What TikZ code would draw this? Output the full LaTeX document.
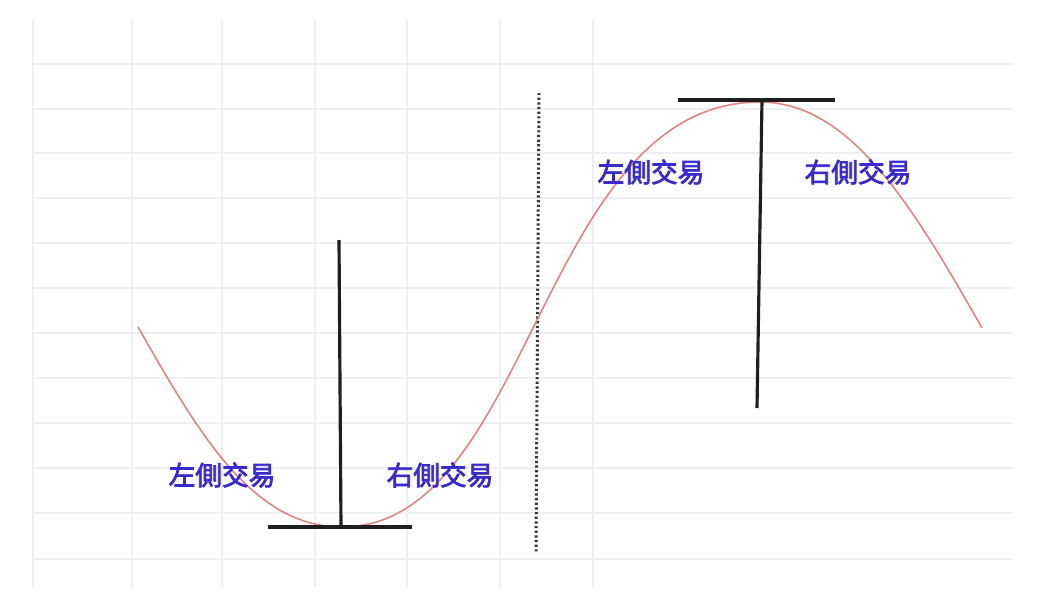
\documentclass[tikz,border=0pt]{standalone}
\usepackage{fontspec}
\newfontfamily\cjk{Noto Sans CJK TC}[FakeBold=2.8]
\definecolor{gridc}{RGB}{237,239,245}
\definecolor{curvec}{RGB}{226,130,130}
\definecolor{labelc}{RGB}{58,42,205}
\definecolor{barc}{RGB}{30,30,30}
\tikzset{
  gridline/.style={draw=gridc, line width=1.1pt},
  curveline/.style={draw=curvec, line width=0.9pt},
  tbar/.style={draw=barc, line width=1.8pt},
  dotline/.style={draw=barc!90, line width=1.7pt, dash pattern=on 1.25pt off 1.4pt},
  lbl/.style={text=labelc, font=\cjk\fontsize{15.2}{18}\selectfont, inner sep=0pt}
}
\begin{document}
\begin{tikzpicture}[x=0.02cm, y=-0.02cm]
\useasboundingbox[fill=white] (0,0) rectangle (1038,606);
% grid
\foreach \y in {64,109,153,198,243,288,333,378,423,468,513,559}
  \draw[gridline] (33,\y) -- (1013,\y);
\foreach \x in {33,132,222,315,407,500,593}
  \draw[gridline] (\x,20) -- (\x,587);
% dotted divider
\coordinate (d1) at (539,93);
\coordinate (d2) at (536,552);
\draw[dotline] (d1) -- (d2);
% curve
\coordinate (cs) at (138,327);
\coordinate (cmin) at (342,527);
\coordinate (cmax) at (760,102);
\coordinate (ce) at (982,328);
\draw[curveline] (cs) .. controls (198,432) and (252,527) .. (cmin)
  .. controls (532,527) and (540,102) .. (cmax)
  .. controls (850,102) and (912,205) .. (ce);
% bottom T
\coordinate (bl) at (268,527);
\coordinate (br) at (412,527);
\coordinate (bt) at (339,240);
\coordinate (bb) at (341,527);
\draw[tbar] (bl) -- (br);
\draw[tbar] (bt) -- (bb);
% top T
\coordinate (tl) at (678,100);
\coordinate (tr) at (835,100);
\coordinate (tt) at (762,100);
\coordinate (tb) at (757,408);
\draw[tbar] (tl) -- (tr);
\draw[tbar] (tt) -- (tb);
% labels
\node[lbl] (l1) at (222,475) {左側交易};
\node[lbl] (r1) at (440,475) {右側交易};
\node[lbl] (l2) at (651,172) {左側交易};
\node[lbl] (r2) at (858,172) {右側交易};
\end{tikzpicture}
\end{document}
